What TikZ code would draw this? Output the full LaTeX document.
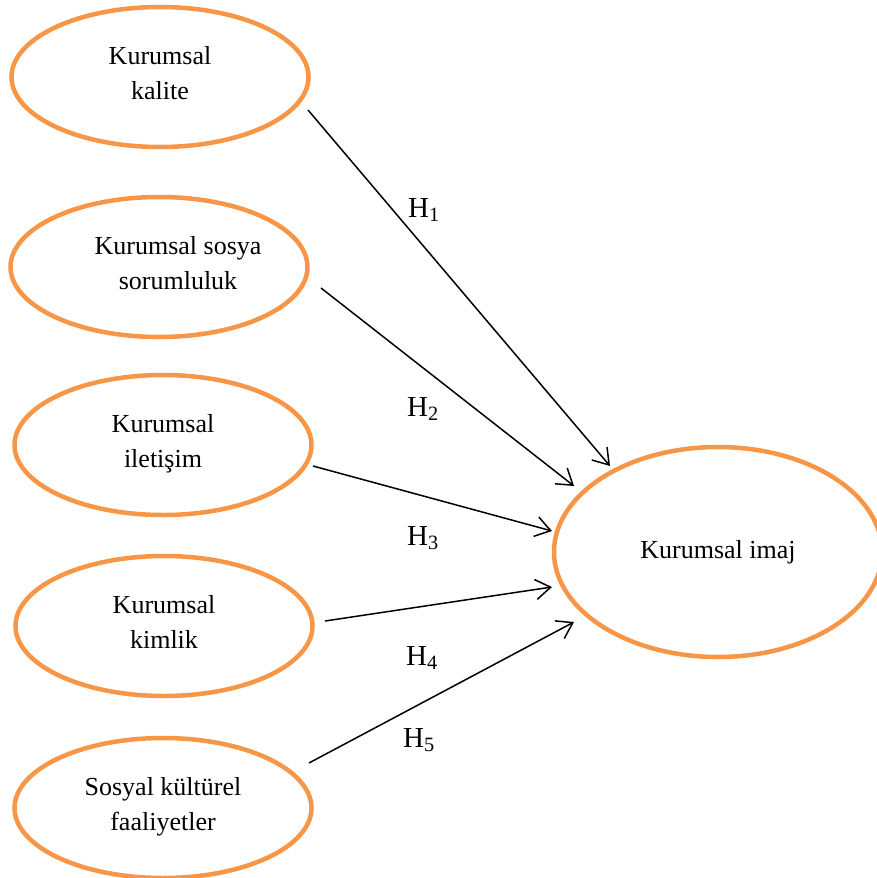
\documentclass[tikz,border=0pt]{standalone}
\usepackage{fontspec}
\setmainfont{Liberation Serif}
\usetikzlibrary{shapes.geometric,arrows.meta,calc}
\definecolor{constructline}{HTML}{F79646}
% extra depth under the last line so two-line labels sit like the originals
\newcommand\bottomgap{\rule[-9pt]{0pt}{9pt}}
\begin{document}
\begin{tikzpicture}[x=1pt,y=-1pt,
  construct/.style={ellipse, draw=constructline, line width=4.5pt, inner sep=0pt,
    minimum width=297pt, minimum height=140pt, align=center,
    font=\fontsize{26}{35}\selectfont},
  hyparrow/.style={-{Straight Barb[length=15pt,width=20pt]}, line width=1.5pt},
  hyp/.style={anchor=base west, inner sep=0pt, font=\fontsize{29}{34}\selectfont}]
\useasboundingbox (0,0) rectangle (877,878);

% constructs
\node[construct] (kalite)   at (160,77)  {Kurumsal\\kalite\bottomgap};
\node[construct] (sosyal)   at (159,267) {\hspace*{38pt}Kurumsal sosya\\\hspace*{38pt}sorumluluk\bottomgap};
\node[construct] (iletisim) at (163,445) {Kurumsal\\iletişim\bottomgap};
\node[construct] (kimlik)   at (164,626) {Kurumsal\\kimlik\bottomgap};
\node[construct] (faaliyet) at (163,808) {Sosyal kültürel\\faaliyetler\bottomgap};
\node[construct, minimum width=328pt, minimum height=210pt] (imaj) at (718,552) {Kurumsal imaj};

% start and end points of the hypothesis paths
\coordinate (s1) at ($(kalite.center)+(148,33)$);
\coordinate (s2) at ($(sosyal.center)+(162,21)$);
\coordinate (s3) at ($(iletisim.center)+(150,21)$);
\coordinate (s4) at ($(kimlik.center)+(161,-5)$);
\coordinate (s5) at ($(faaliyet.center)+(146,-45)$);
\coordinate (e1) at ($(imaj.center)+(-108,-86)$);
\coordinate (e2) at ($(imaj.center)+(-144,-66)$);
\coordinate (e3) at ($(imaj.center)+(-166,-21)$);
\coordinate (e4) at ($(imaj.center)+(-166,35)$);
\coordinate (e5) at ($(imaj.center)+(-144,70)$);

\draw[hyparrow] (s1) -- (e1);
\draw[hyparrow] (s2) -- (e2);
\draw[hyparrow] (s3) -- (e3);
\draw[hyparrow] (s4) -- (e4);
\draw[hyparrow] (s5) -- (e5);

% hypothesis labels
\node[hyp] (h1) at (408,217) {H\textsubscript{1}};
\node[hyp] (h2) at (407,416) {H\textsubscript{2}};
\node[hyp] (h3) at (407,545) {H\textsubscript{3}};
\node[hyp] (h4) at (406,665) {H\textsubscript{4}};
\node[hyp] (h5) at (403,747) {H\textsubscript{5}};
\end{tikzpicture}
\end{document}
